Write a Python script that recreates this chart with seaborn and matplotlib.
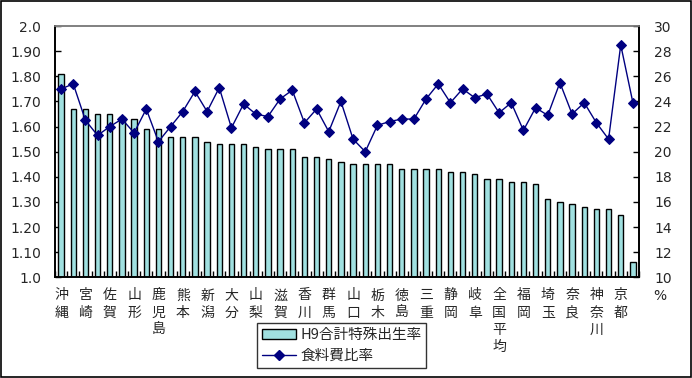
import numpy as np
import pandas as pd
import matplotlib
matplotlib.use("Agg")
import matplotlib.pyplot as plt
from matplotlib.patches import Patch, Rectangle
from matplotlib.lines import Line2D
import seaborn as sns

# ---- data ----
prefectures = ["沖縄", "島根", "宮崎", "福島", "佐賀", "長崎", "山形", "鳥取",
               "鹿児島", "岩手", "熊本", "福井", "新潟", "青森", "大分", "長野",
               "山梨", "石川", "滋賀", "愛媛", "香川", "高知", "群馬", "和歌山",
               "山口", "茨城", "栃木", "岡山", "徳島", "広島", "三重", "秋田",
               "静岡", "富山", "岐阜", "愛知", "全国平均", "宮城", "福岡", "兵庫",
               "埼玉", "千葉", "奈良", "大阪", "神奈川", "北海道", "京都", "東京"]

tfr = [1.81, 1.67, 1.67, 1.65, 1.65, 1.64, 1.63, 1.59,
       1.59, 1.56, 1.56, 1.56, 1.54, 1.53, 1.53, 1.53,
       1.52, 1.51, 1.51, 1.51, 1.48, 1.48, 1.47, 1.46,
       1.45, 1.45, 1.45, 1.45, 1.43, 1.43, 1.43, 1.43,
       1.42, 1.42, 1.41, 1.39, 1.39, 1.38, 1.38, 1.37,
       1.31, 1.30, 1.29, 1.28, 1.27, 1.27, 1.25, 1.06]

food_ratio = [25.0, 25.4, 22.5, 21.3, 22.0, 22.6, 21.5, 23.4,
              20.8, 22.0, 23.2, 24.8, 23.2, 25.1, 21.9, 23.8,
              23.0, 22.8, 24.2, 24.9, 22.3, 23.4, 21.6, 24.0,
              21.0, 20.0, 22.1, 22.4, 22.6, 22.6, 24.2, 25.4,
              23.9, 25.0, 24.3, 24.6, 23.1, 23.9, 21.7, 23.5,
              22.9, 25.5, 23.0, 23.9, 22.3, 21.0, 28.5, 23.9]

left_ticks = [1.0, 1.1, 1.2, 1.3, 1.4, 1.5, 1.6, 1.7, 1.8, 1.9, 2.0]
left_tick_labels = ["1.0", "1.10", "1.20", "1.30", "1.40", "1.50",
                    "1.60", "1.70", "1.80", "1.90", "2.0"]
right_ticks = [10, 12, 14, 16, 18, 20, 22, 24, 26, 28, 30]

bar_label = "H9合計特殊出生率"
line_label = "食料費比率"

df = pd.DataFrame({"pref": prefectures, "tfr": tfr, "food": food_ratio})
df["idx"] = np.arange(len(df))

# ---- style ----
sns.set_theme(style="white")
plt.rcParams["font.family"] = ["Noto Sans CJK JP", "DejaVu Sans"]

bar_color = "#A0E0E0"
line_color = "#000080"

fig = plt.figure(figsize=(6.92, 3.78), dpi=100)
ax = fig.add_axes([0.0795, 0.2664, 0.8439, 0.6645])

sns.barplot(data=df, x="idx", y="tfr", color=bar_color, saturation=1,
            edgecolor="black", linewidth=1.0, width=0.45, ax=ax,
            native_scale=True)
ax.set_xlim(-0.5, len(df) - 0.5)
ax.set_ylim(1.0, 2.0)
ax.set_yticks(left_ticks)
ax.set_yticklabels(left_tick_labels, fontsize=10, family=["DejaVu Sans"])
ax.set_xlabel("")
ax.set_ylabel("")

# x tick labels (every other category, vertical text)
lab_pos = df["idx"].values[::2]
ax.set_xticks(lab_pos)
ax.set_xticklabels(["\n".join(p) for p in df["pref"].values[::2]],
                   fontsize=10, linespacing=1.3, va="top")
ax.set_xticks(np.arange(len(df) + 1) - 0.5, minor=True)
ax.tick_params(axis="x", which="major", length=0, pad=8)
ax.tick_params(axis="x", which="minor", direction="in", length=4,
               width=1, color="black", bottom=True)
ax.tick_params(axis="y", direction="in", length=4, width=1, color="black",
               left=True, pad=10)

ax2 = ax.twinx()
sns.lineplot(data=df, x="idx", y="food", color=line_color, linewidth=1.0,
             marker="D", markersize=5, markeredgecolor=line_color,
             markerfacecolor=line_color, ax=ax2, legend=False)
ax2.set_ylim(10, 30)
ax2.set_yticks(right_ticks)
ax2.set_yticklabels([str(t) for t in right_ticks], fontsize=10,
                    family=["DejaVu Sans"])
ax2.set_ylabel("")
ax2.set_xlabel("")
ax2.tick_params(axis="y", direction="in", length=4, width=1, color="black",
                right=True, pad=11)
ax2.set_xlim(-0.5, len(df) - 0.5)

for a in (ax, ax2):
    for s in ("left", "right", "bottom"):
        a.spines[s].set_color("black")
        a.spines[s].set_linewidth(1.2)
    a.spines["top"].set_color("#808080")
    a.spines["top"].set_linewidth(1.2)
ax.grid(False)
ax2.grid(False)

fig.text(0.954, 0.218, "%", fontsize=10, ha="center", va="center",
         family=["DejaVu Sans"])

handles = [Patch(facecolor=bar_color, edgecolor="black", linewidth=1.0),
           Line2D([0], [0], color=line_color, linewidth=1.0, marker="D",
                  markersize=5, markerfacecolor=line_color)]
leg = fig.legend(handles, [bar_label, line_label], loc="upper left",
                 bbox_to_anchor=(257 / 692, 1 - 323 / 378),
                 bbox_transform=fig.transFigure,
                 frameon=True, fancybox=False, fontsize=10.5, borderpad=0.35,
                 handlelength=2.3, handletextpad=0.3, labelspacing=0.45,
                 borderaxespad=0)
leg.get_frame().set_edgecolor("black")
leg.get_frame().set_linewidth(1.0)

fig.patches.append(Rectangle((0.001, 0.002), 0.997, 0.995, transform=fig.transFigure,
                             fill=False, edgecolor="black", linewidth=1.2))

fig.savefig("out.png", dpi=100)
